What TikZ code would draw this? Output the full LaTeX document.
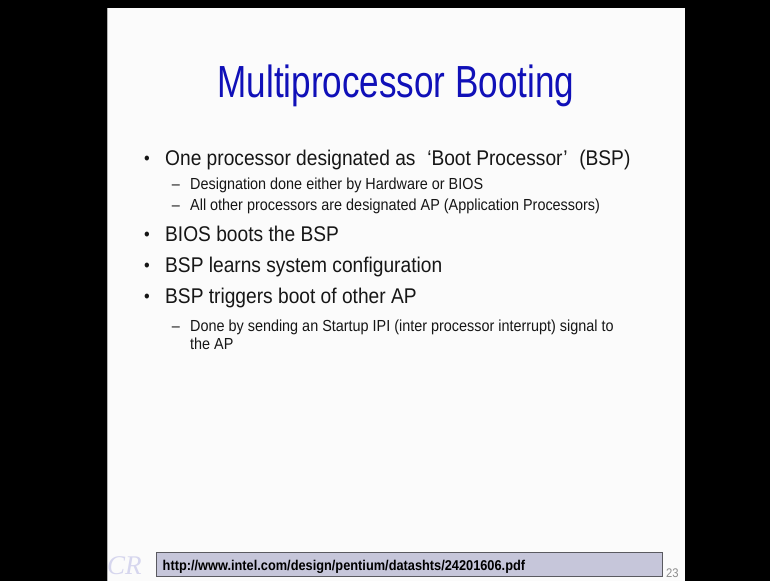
\documentclass[tikz,border=0pt]{standalone}
\usepackage{fontspec}
\setmainfont{Liberation Sans}[FakeStretch=0.9]
\newfontfamily\headfont{Liberation Sans}[FakeStretch=0.78]
\newfontfamily\logofont{Liberation Serif}
\definecolor{slidebg}{RGB}{251,251,251}
\definecolor{titleblue}{RGB}{16,16,184}
\definecolor{bodytext}{RGB}{22,22,22}
\definecolor{footfill}{RGB}{198,198,218}
\definecolor{footedge}{RGB}{90,90,96}
\definecolor{pagenum}{RGB}{140,140,140}
\definecolor{logocol}{RGB}{214,214,238}
\begin{document}
\begin{tikzpicture}[x=1pt,y=-1pt,
  titletext/.style={anchor=base,inner sep=0,text=titleblue,font=\headfont\fontsize{45}{46}\selectfont},
  bullettext/.style={anchor=base west,inner sep=0,text=bodytext,font=\fontsize{21.3}{24}\selectfont},
  subtext/.style={anchor=base west,inner sep=0,text=bodytext,font=\fontsize{16}{18}\selectfont},
  dotmark/.style={anchor=base,inner sep=0,text=bodytext,font=\fontsize{18}{20}\selectfont},
  dashmark/.style={anchor=base,inner sep=0,text=bodytext,font=\fontsize{16}{18}\selectfont}]
% screen frame and slide area
\useasboundingbox (0,0) rectangle (770,581);
\fill[black] (0,0) rectangle (770,581);
\fill[slidebg] (107,8) rectangle (685,581);
\draw[gray!60,line width=0.6pt] (107.3,8) -- (107.3,581);
% title
\node[titletext] (title) at (396,97) {Multiprocessor Booting};
% first bullet with its two sub-items
\node[dotmark] (b1) at (147,164) {•};
\node[bullettext] (t1) at (165,165) {One processor designated as\hspace{0.55em}‘Boot Processor’\hspace{0.55em}(BSP)};
\node[dashmark] (d1) at (176,189) {–};
\node[subtext] (s1) at (190,189) {Designation done either by Hardware or BIOS};
\node[dashmark] (d2) at (176,210) {–};
\node[subtext] (s2) at (190,210) {All other processors are designated AP (Application Processors)};
% remaining bullets
\node[dotmark] (b2) at (147,240) {•};
\node[bullettext] (t2) at (165,241) {BIOS boots the BSP};
\node[dotmark] (b3) at (147,271) {•};
\node[bullettext] (t3) at (165,272) {BSP learns system configuration};
\node[dotmark] (b4) at (147,302) {•};
\node[bullettext] (t4) at (165,303) {BSP triggers boot of other AP};
\node[dashmark] (d3) at (176,331) {–};
\node[subtext] (s3) at (190,331) {Done by sending an Startup IPI (inter processor interrupt) signal to};
\node[subtext] (s4) at (190,349) {the AP};
% footer: logo, reference bar and page number
\node[anchor=base west,inner sep=0,text=logocol,font=\logofont\itshape\fontsize{27}{27}\selectfont] (logo) at (107,574) {CR};
\node[draw=footedge,line width=1.2pt,fill=footfill,minimum width=506pt,minimum height=24pt,anchor=north west,inner sep=0] (bar) at (155.5,552) {};
\node[anchor=base west,inner sep=0,text=black,font=\bfseries\fontsize{14.2}{16}\selectfont] (url) at ([xshift=7pt]bar.west |- 0,570) {http://www.intel.com/design/pentium/datashts/24201606.pdf};
\node[anchor=base west,inner sep=0,text=pagenum,font=\fontsize{12.5}{14}\selectfont] (page) at (666,577) {23};
\end{tikzpicture}
\end{document}
